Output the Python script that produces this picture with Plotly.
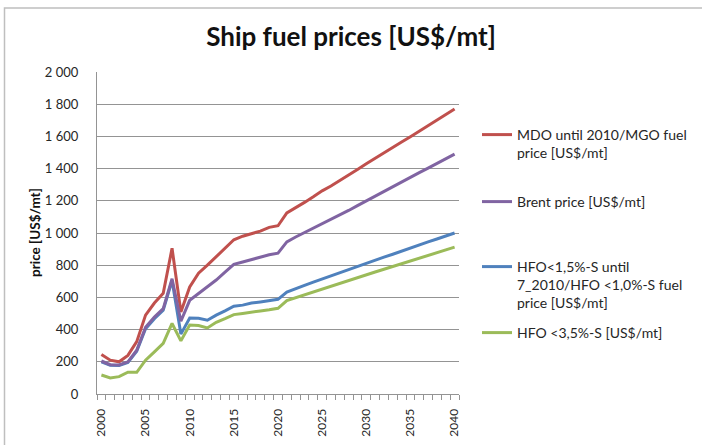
import plotly.graph_objects as go

# Forecast years
years = list(range(2000, 2041))

# Fuel prices, US$/mt
mdo_mgo = [245, 210, 200, 240, 325, 490, 565, 625, 905, 510,
           665, 750, 800, 852, 905, 958, 980, 998, 1012, 1035,
           1045, 1125, 1155, 1190, 1225, 1262, 1292, 1325, 1358, 1395,
           1430, 1465, 1495, 1530, 1565, 1598, 1632, 1665, 1700, 1732,
           1770]
brent = [205, 182, 180, 200, 272, 415, 478, 530, 716, 452,
         582, 625, 665, 708, 757, 805, 820, 835, 850, 865,
         875, 945, 975, 1002, 1030, 1058, 1088, 1115, 1140, 1170,
         1200, 1228, 1258, 1288, 1315, 1345, 1375, 1403, 1432, 1460,
         1490]
hfo_low_s = [200, 178, 177, 196, 265, 405, 468, 520, 705, 372,
             472, 470, 458, 490, 516, 545, 552, 565, 572, 580,
             588, 633, 652, 675, 695, 715, 735, 752, 772, 792,
             810, 830, 850, 868, 888, 905, 925, 945, 963, 982,
             1000]
hfo_35 = [118, 100, 108, 135, 135, 210, 262, 315, 438, 330,
          428, 425, 410, 445, 468, 493, 500, 510, 516, 523,
          532, 580, 598, 618, 635, 652, 670, 688, 705, 722,
          740, 758, 775, 792, 808, 825, 843, 860, 878, 895,
          912]

series_names = [
    "MDO until 2010/MGO fuel<br>price [US$/mt]",
    "Brent price [US$/mt]",
    "HFO&lt;1,5%-S until<br>7_2010/HFO &lt;1,0%-S fuel<br>price [US$/mt]",
    "HFO &lt;3,5%-S [US$/mt]",
]
y_ticks = [0, 200, 400, 600, 800, 1000, 1200, 1400, 1600, 1800, 2000]
x_label_years = [2000, 2005, 2010, 2015, 2020, 2025, 2030, 2035, 2040]

FONT = "Lato, 'Open Sans', sans-serif"
TXT = "#262626"
GRID = "#949494"

# plot area in pixels
W, H = 702, 445
L, R, T, B = 97, 243, 72, 51
PW, PH = W - L - R, H - T - B


def px_x(p):
    return (p - L) / PW


def px_y(p):
    return (H - B - p) / PH


fig = go.Figure()

# draw order: red, blue, purple (on top of blue), green
order = [
    (mdo_mgo, series_names[0], "#C0504D", "legend", 1),
    (hfo_low_s, series_names[2], "#4F81BD", "legend3", 3),
    (brent, series_names[1], "#8064A2", "legend2", 2),
    (hfo_35, series_names[3], "#9BBB59", "legend4", 4),
]
for vals, name, color, leg, rank in order:
    fig.add_trace(go.Scatter(
        x=years, y=vals, name=name, mode="lines",
        line=dict(color=color, width=3),
        legend=leg, legendrank=rank,
    ))

legend_tops = {"legend": 119, "legend2": 186, "legend3": 251, "legend4": 317}
leg_common = dict(
    x=px_x(477), xanchor="left", yanchor="top",
    font=dict(family=FONT, size=14, color=TXT),
    bgcolor="rgba(0,0,0,0)", valign="top", itemwidth=30,
)

fig.update_layout(
    width=W, height=H,
    margin=dict(l=L, r=R, t=T, b=B, pad=0, autoexpand=False),
    paper_bgcolor="white", plot_bgcolor="white",
    separators=", ",
    showlegend=True,
    title=dict(
        text="<b>Ship fuel prices [US$/mt]</b>",
        x=351 / W, xanchor="center", xref="container",
        y=1 - 37 / H, yanchor="middle", yref="container",
        font=dict(family=FONT, size=26, color="#111111"),
    ),
    xaxis=dict(
        range=[1999.5, 2040.5], automargin=False,
        tickmode="array", tickvals=x_label_years,
        ticktext=[str(v) for v in x_label_years],
        tickangle=-90, ticks="", ticklabelstandoff=9,
        minor=dict(tickmode="linear", tick0=1999.5, dtick=1,
                   ticks="outside", ticklen=5, tickcolor=GRID,
                   showgrid=False),
        showgrid=False, zeroline=False,
        showline=True, linecolor=GRID, linewidth=1.2,
        tickfont=dict(family=FONT, size=12, color=TXT),
    ),
    xaxis2=dict(
        range=[1999.5, 2040.5], overlaying="x", anchor="y", side="bottom",
        automargin=False,
        tickmode="linear", tick0=1999.5, dtick=1,
        ticks="inside", ticklen=5, tickcolor=GRID,
        showticklabels=False, showgrid=False, zeroline=False, showline=False,
    ),
    yaxis=dict(
        range=[0, 2000], automargin=False,
        tickmode="array", tickvals=y_ticks, tickformat=",d",
        ticks="", ticklabelstandoff=15,
        showgrid=True, gridcolor=GRID, gridwidth=1.2,
        zeroline=False,
        showline=True, linecolor=GRID, linewidth=1.2,
        tickfont=dict(family=FONT, size=13, color=TXT),
    ),
    annotations=[dict(
        text="<b>price [US$/mt]</b>",
        x=px_x(35), y=px_y(233), xref="paper", yref="paper",
        xanchor="center", yanchor="middle",
        textangle=-90, showarrow=False,
        font=dict(family=FONT, size=13.5, color="#111111"),
    )],
    shapes=[dict(
        type="rect", xref="paper", yref="paper",
        x0=px_x(4.5), x1=px_x(720), y0=px_y(460), y1=px_y(8),
        line=dict(color="#BFBFBF", width=1.5), layer="below",
    )],
)

for key, top in legend_tops.items():
    fig.update_layout({key: dict(leg_common, y=px_y(top))})

fig.write_html("out.html")
